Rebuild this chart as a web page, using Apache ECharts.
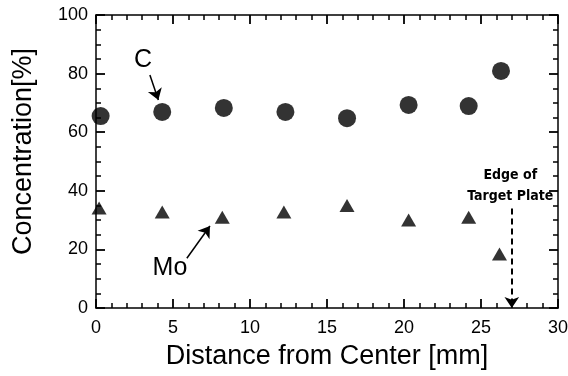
<!DOCTYPE html>
<html>
<head>
<meta charset="utf-8">
<script src="https://cdn.jsdelivr.net/npm/echarts@6/dist/echarts.min.js"></script>
<style>
  html, body { margin: 0; padding: 0; background: #fff; }
  #chart { width: 568px; height: 376px; }
</style>
</head>
<body>
<div id="chart"></div>
<script>
  // values
  var cDistance = [0.3, 4.3, 8.3, 12.3, 16.3, 20.3, 24.2, 26.3];
  var cConc = [65.5, 66.9, 68.3, 66.9, 64.8, 69.3, 68.9, 80.9];
  var moDistance = [0.2, 4.3, 8.2, 12.2, 16.3, 20.3, 24.2, 26.2];
  var moConc = [34.1, 32.8, 31.0, 32.8, 35.0, 30.0, 31.0, 18.4];
  var edgeX = 27;

  var font = '"Liberation Sans", Arial, sans-serif';
  var boldFont = '"DejaVu Sans Condensed", "DejaVu Sans", sans-serif';

  function pairs(xs, ys) {
    return xs.map(function (x, i) { return [x, ys[i]]; });
  }

  var chart = echarts.init(document.getElementById('chart'));

  // frame axis with inward major + minor ticks
  function frameAxis(min, max, step, minorSplit, pos, extra) {
    return Object.assign({
      type: 'value', min: min, max: max, interval: step, position: pos,
      splitLine: { show: false },
      axisLine: { show: true, onZero: false, lineStyle: { color: '#000', width: 1.5 } },
      axisTick: { show: true, inside: true, length: 9, lineStyle: { color: '#000', width: 1.8 } },
      minorTick: { show: true, splitNumber: minorSplit, length: 5, lineStyle: { color: '#000', width: 1.5 } },
      axisLabel: { show: false }
    }, extra || {});
  }

  var noMark = { color: 'rgba(0,0,0,0)' };

  chart.setOption({
    animation: false,
    backgroundColor: '#fff',
    grid: { left: 96, right: 10, top: 15, bottom: 68, outerBoundsMode: 'none' },
    xAxis: [
      frameAxis(0, 30, 5, 5, 'bottom', {
        name: 'Distance from Center [mm]',
        nameLocation: 'middle', nameGap: 35,
        nameTextStyle: { fontFamily: font, fontSize: 27, color: '#000' },
        axisLabel: { show: true, fontFamily: font, fontSize: 18, color: '#000', margin: 11 }
      }),
      frameAxis(0, 30, 5, 5, 'top')
    ],
    yAxis: [
      frameAxis(0, 100, 20, 4, 'left', {
        name: 'Concentration[%]',
        nameLocation: 'middle', nameGap: 59,
        nameTextStyle: { fontFamily: font, fontSize: 27, color: '#000', padding: [0, 0, 0, 20] },
        axisLabel: { show: true, fontFamily: font, fontSize: 18, color: '#000', margin: 8 }
      }),
      frameAxis(0, 100, 20, 4, 'right')
    ],
    series: [
      {
        name: 'C', type: 'scatter',
        symbol: 'circle', symbolSize: 18,
        itemStyle: { color: '#000' },
        data: pairs(cDistance, cConc),
        markLine: {
          silent: true, symbol: ['none', 'arrow'], symbolSize: 11,
          lineStyle: { color: '#000', width: 1.5, type: 'solid' },
          label: { show: false },
          data: [[{ coord: [3.5, 79.5] }, { coord: [4.05, 71] }]]
        },
        markPoint: {
          silent: true, symbol: 'circle', symbolSize: 2, itemStyle: noMark,
          label: { show: true, position: 'inside', formatter: 'C', fontFamily: font, fontSize: 25, color: '#000' },
          data: [{ coord: [3.05, 84.6] }]
        }
      },
      {
        name: 'Mo', type: 'scatter',
        symbol: 'triangle', symbolSize: [15, 13],
        itemStyle: { color: '#000' },
        data: pairs(moDistance, moConc),
        markLine: {
          silent: true, symbol: ['none', 'arrow'], symbolSize: 11,
          label: { show: false },
          lineStyle: { color: '#000', width: 1.5, type: 'solid' },
          data: [
            [{ coord: [5.9, 17] }, { coord: [7.4, 28] }],
            [{ coord: [edgeX, 34], lineStyle: { color: '#000', width: 2, type: [6, 4] } },
             { coord: [edgeX, 0] }]
          ]
        },
        markPoint: {
          silent: true, symbol: 'circle', symbolSize: 2, itemStyle: noMark,
          label: { show: true, position: 'inside', fontFamily: font, color: '#000' },
          data: [
            { coord: [4.8, 13.6], label: { formatter: 'Mo', fontSize: 25 } },
            { coord: [26.9, 45.4], label: { formatter: 'Edge of', fontSize: 14, fontWeight: 'bold', fontFamily: boldFont } },
            { coord: [26.9, 38.0], label: { formatter: 'Target Plate', fontSize: 14, fontWeight: 'bold', fontFamily: boldFont } }
          ]
        }
      }
    ]
  });
</script>
</body>
</html>
